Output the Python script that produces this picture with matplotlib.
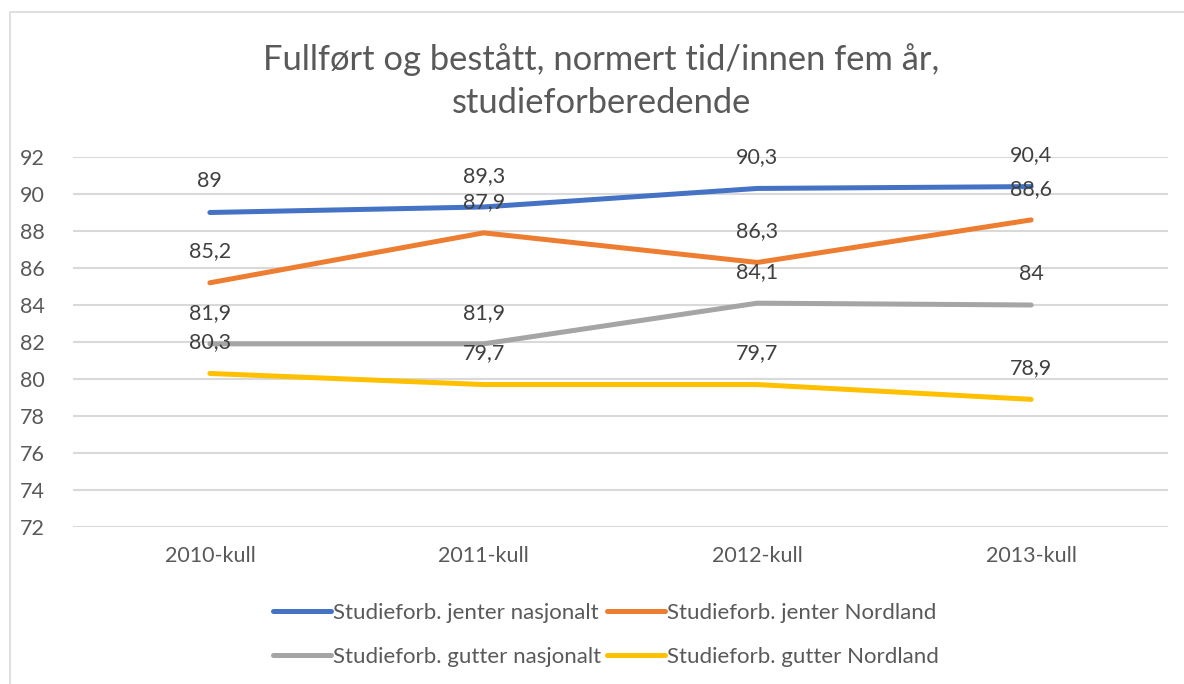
import matplotlib
matplotlib.use("Agg")
import matplotlib.pyplot as plt
from matplotlib.patches import Rectangle

categories = ["2010-kull", "2011-kull", "2012-kull", "2013-kull"]
series_names = ["Studieforb. jenter nasjonalt", "Studieforb. jenter Nordland",
                "Studieforb. gutter nasjonalt", "Studieforb. gutter Nordland"]
jenter_nasjonalt = [89.0, 89.3, 90.3, 90.4]
jenter_nordland = [85.2, 87.9, 86.3, 88.6]
gutter_nasjonalt = [81.9, 81.9, 84.1, 84.0]
gutter_nordland = [80.3, 79.7, 79.7, 78.9]
y_ticks = [72, 74, 76, 78, 80, 82, 84, 86, 88, 90, 92]
title = "Fullført og bestått, normert tid/innen fem år,\nstudieforberedende"

colors = ["#4472C4", "#ED7D31", "#A5A5A5", "#FFC000"]
text_color = "#595959"
label_color = "#404040"

plt.rcParams['font.family'] = ['Lato', 'DejaVu Sans']

fig = plt.figure(figsize=(11.84, 6.84), dpi=100)
fig.patches.append(Rectangle((10/1184, -0.1), 1.2, 1 - 12/684 + 0.1,
                             transform=fig.transFigure, fill=False,
                             edgecolor="#D9D9D9", lw=1.2, zorder=0))

ax = fig.add_axes([73/1184, 1 - 527/684, (1168 - 73)/1184, (527 - 157)/684])
x = list(range(len(categories)))
all_series = [jenter_nasjonalt, jenter_nordland, gutter_nasjonalt, gutter_nordland]
handles = []
for vals, name, c in zip(all_series, series_names, colors):
    h, = ax.plot(x, vals, color=c, lw=3.6, solid_capstyle='round',
                 solid_joinstyle='round', label=name, zorder=3)
    handles.append(h)
for vals in all_series:
    for xi, v in zip(x, vals):
        s = f"{v:g}".replace(".", ",")
        ax.annotate(s, (xi, v), xytext=(0, 22.5), textcoords='offset points',
                    ha='center', va='center', fontsize=15.5, color=label_color, zorder=4)

ax.set_xlim(-0.5, len(categories) - 0.5)
ax.set_ylim(72, 92)
ax.set_yticks(y_ticks)
ax.set_xticks(x)
ax.set_xticklabels(categories)
ax.tick_params(axis='both', length=0, labelsize=15.5, labelcolor=text_color)
ax.tick_params(axis='y', pad=20)
ax.tick_params(axis='x', pad=14)
ax.grid(axis='y', color="#D9D9D9", lw=1.5)
ax.set_axisbelow(True)
for sp in ax.spines.values():
    sp.set_visible(False)

fig.text(0.508, 1 - 81/684, title, ha='center', va='center', fontsize=24.8,
         color=text_color, linespacing=1.45)

order = [0, 2, 1, 3]
fig.legend([handles[i] for i in order], [series_names[i] for i in order],
           loc='center', bbox_to_anchor=(606/1184, 1 - 635/684), ncol=2,
           frameon=False, fontsize=16, labelcolor=text_color,
           handlelength=2.6, handletextpad=0.1, columnspacing=0.25,
           labelspacing=1.07)

fig.savefig("out.png", dpi=100)
